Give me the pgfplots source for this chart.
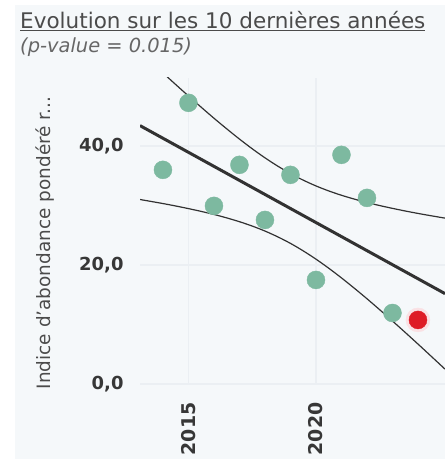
\documentclass[border=0pt]{standalone}
\usepackage{fontspec}
\setmainfont{DejaVu Sans}
\usepackage{pgfplots}
\pgfplotsset{compat=1.18}
\definecolor{bg}{RGB}{245,248,250}
\definecolor{gridc}{RGB}{235,239,243}
\definecolor{ptc}{RGB}{125,185,160}
\definecolor{ptred}{RGB}{222,28,38}
\definecolor{halo}{RGB}{250,225,228}
\definecolor{txt}{RGB}{75,75,75}
\definecolor{tick}{RGB}{55,55,55}
\definecolor{linec}{RGB}{50,50,50}
\begin{document}
\begin{tikzpicture}[x=1bp,y=1bp]
\path[use as bounding box] (0,0) rectangle (445,459);
\fill[white] (0,0) rectangle (445,459);
\fill[bg] (15,0) rectangle (445,454);
\node[anchor=base west, inner sep=0, text=txt, font=\fontsize{21.6}{25}\selectfont] at (20,430) {\underline{Evolution sur les 10 dernières années}};
\node[anchor=base west, inner sep=0, text=txt!85, font=\fontsize{19.5}{22}\itshape] at (20,406) {(p-value = 0.015)};
\node[rotate=90, inner sep=0, text=txt, font=\fontsize{18.5}{21}\selectfont] at (45,216) {Indice d'abondance pondéré r...};
\begin{axis}[
  at={(140bp,75bp)}, anchor=south west,
  scale only axis, width=305bp, height=306bp,
  xmin=2013.1, xmax=2025.06, ymin=0, ymax=51.4,
  axis line style={draw=none}, tick style={draw=none},
  grid=major, major grid style={gridc, line width=1.5bp},
  xtick={2015,2020}, xticklabels={2015,2020},
  ytick={0,20,40}, yticklabels={{0,0},{20,0},{40,0}},
  xticklabel style={rotate=90, anchor=east, text=tick, font=\fontsize{19}{22}\bfseries, xshift=-15bp},
  yticklabel style={anchor=east, text=tick, font=\fontsize{18}{21}\bfseries, xshift=-13bp},
  clip=true,
]
\addplot[only marks, mark=*, mark size=9bp, color=ptc] coordinates {
(2014,35.97) (2015,47.23) (2016,29.92) (2017,36.81) (2018,27.56) (2019,35.13)
(2020,17.48) (2021,38.49) (2022,31.26) (2023,11.93)};
\addplot[only marks, mark=*, mark size=12bp, color=halo] coordinates {(2024,10.76)};
\addplot[only marks, mark=*, mark size=9bp, color=ptred] coordinates {(2024,10.76)};
\addplot[linec, line width=3bp] coordinates {(2013.1,43.40) (2025.06,15.18)};
\addplot[linec, line width=1.2bp, smooth] coordinates {
(2013.1,55.81) (2013.5,54.23) (2014,52.25) (2014.5,50.30) (2015,48.38) (2015.5,46.49)
(2016,44.64) (2016.5,42.86) (2017,41.14) (2017.5,39.51) (2018,37.99) (2018.5,36.60)
(2019,35.34) (2019.5,34.24) (2020,33.27) (2020.5,32.43) (2021,31.70) (2021.5,31.06)
(2022,30.48) (2022.5,29.97) (2023,29.50) (2023.5,29.06) (2024,28.65) (2024.5,28.27) (2025.06,27.86)};
\addplot[linec, line width=1.2bp, smooth] coordinates {
(2013.1,30.99) (2013.5,30.69) (2014,30.31) (2014.5,29.90) (2015,29.46) (2015.5,28.99)
(2016,28.48) (2016.5,27.90) (2017,27.26) (2017.5,26.53) (2018,25.69) (2018.5,24.72)
(2019,23.62) (2019.5,22.36) (2020,20.97) (2020.5,19.45) (2021,17.82) (2021.5,16.10)
(2022,14.32) (2022.5,12.47) (2023,10.58) (2023.5,8.66) (2024,6.71) (2024.5,4.73) (2025.06,2.50)};
\end{axis}
\end{tikzpicture}
\end{document}
